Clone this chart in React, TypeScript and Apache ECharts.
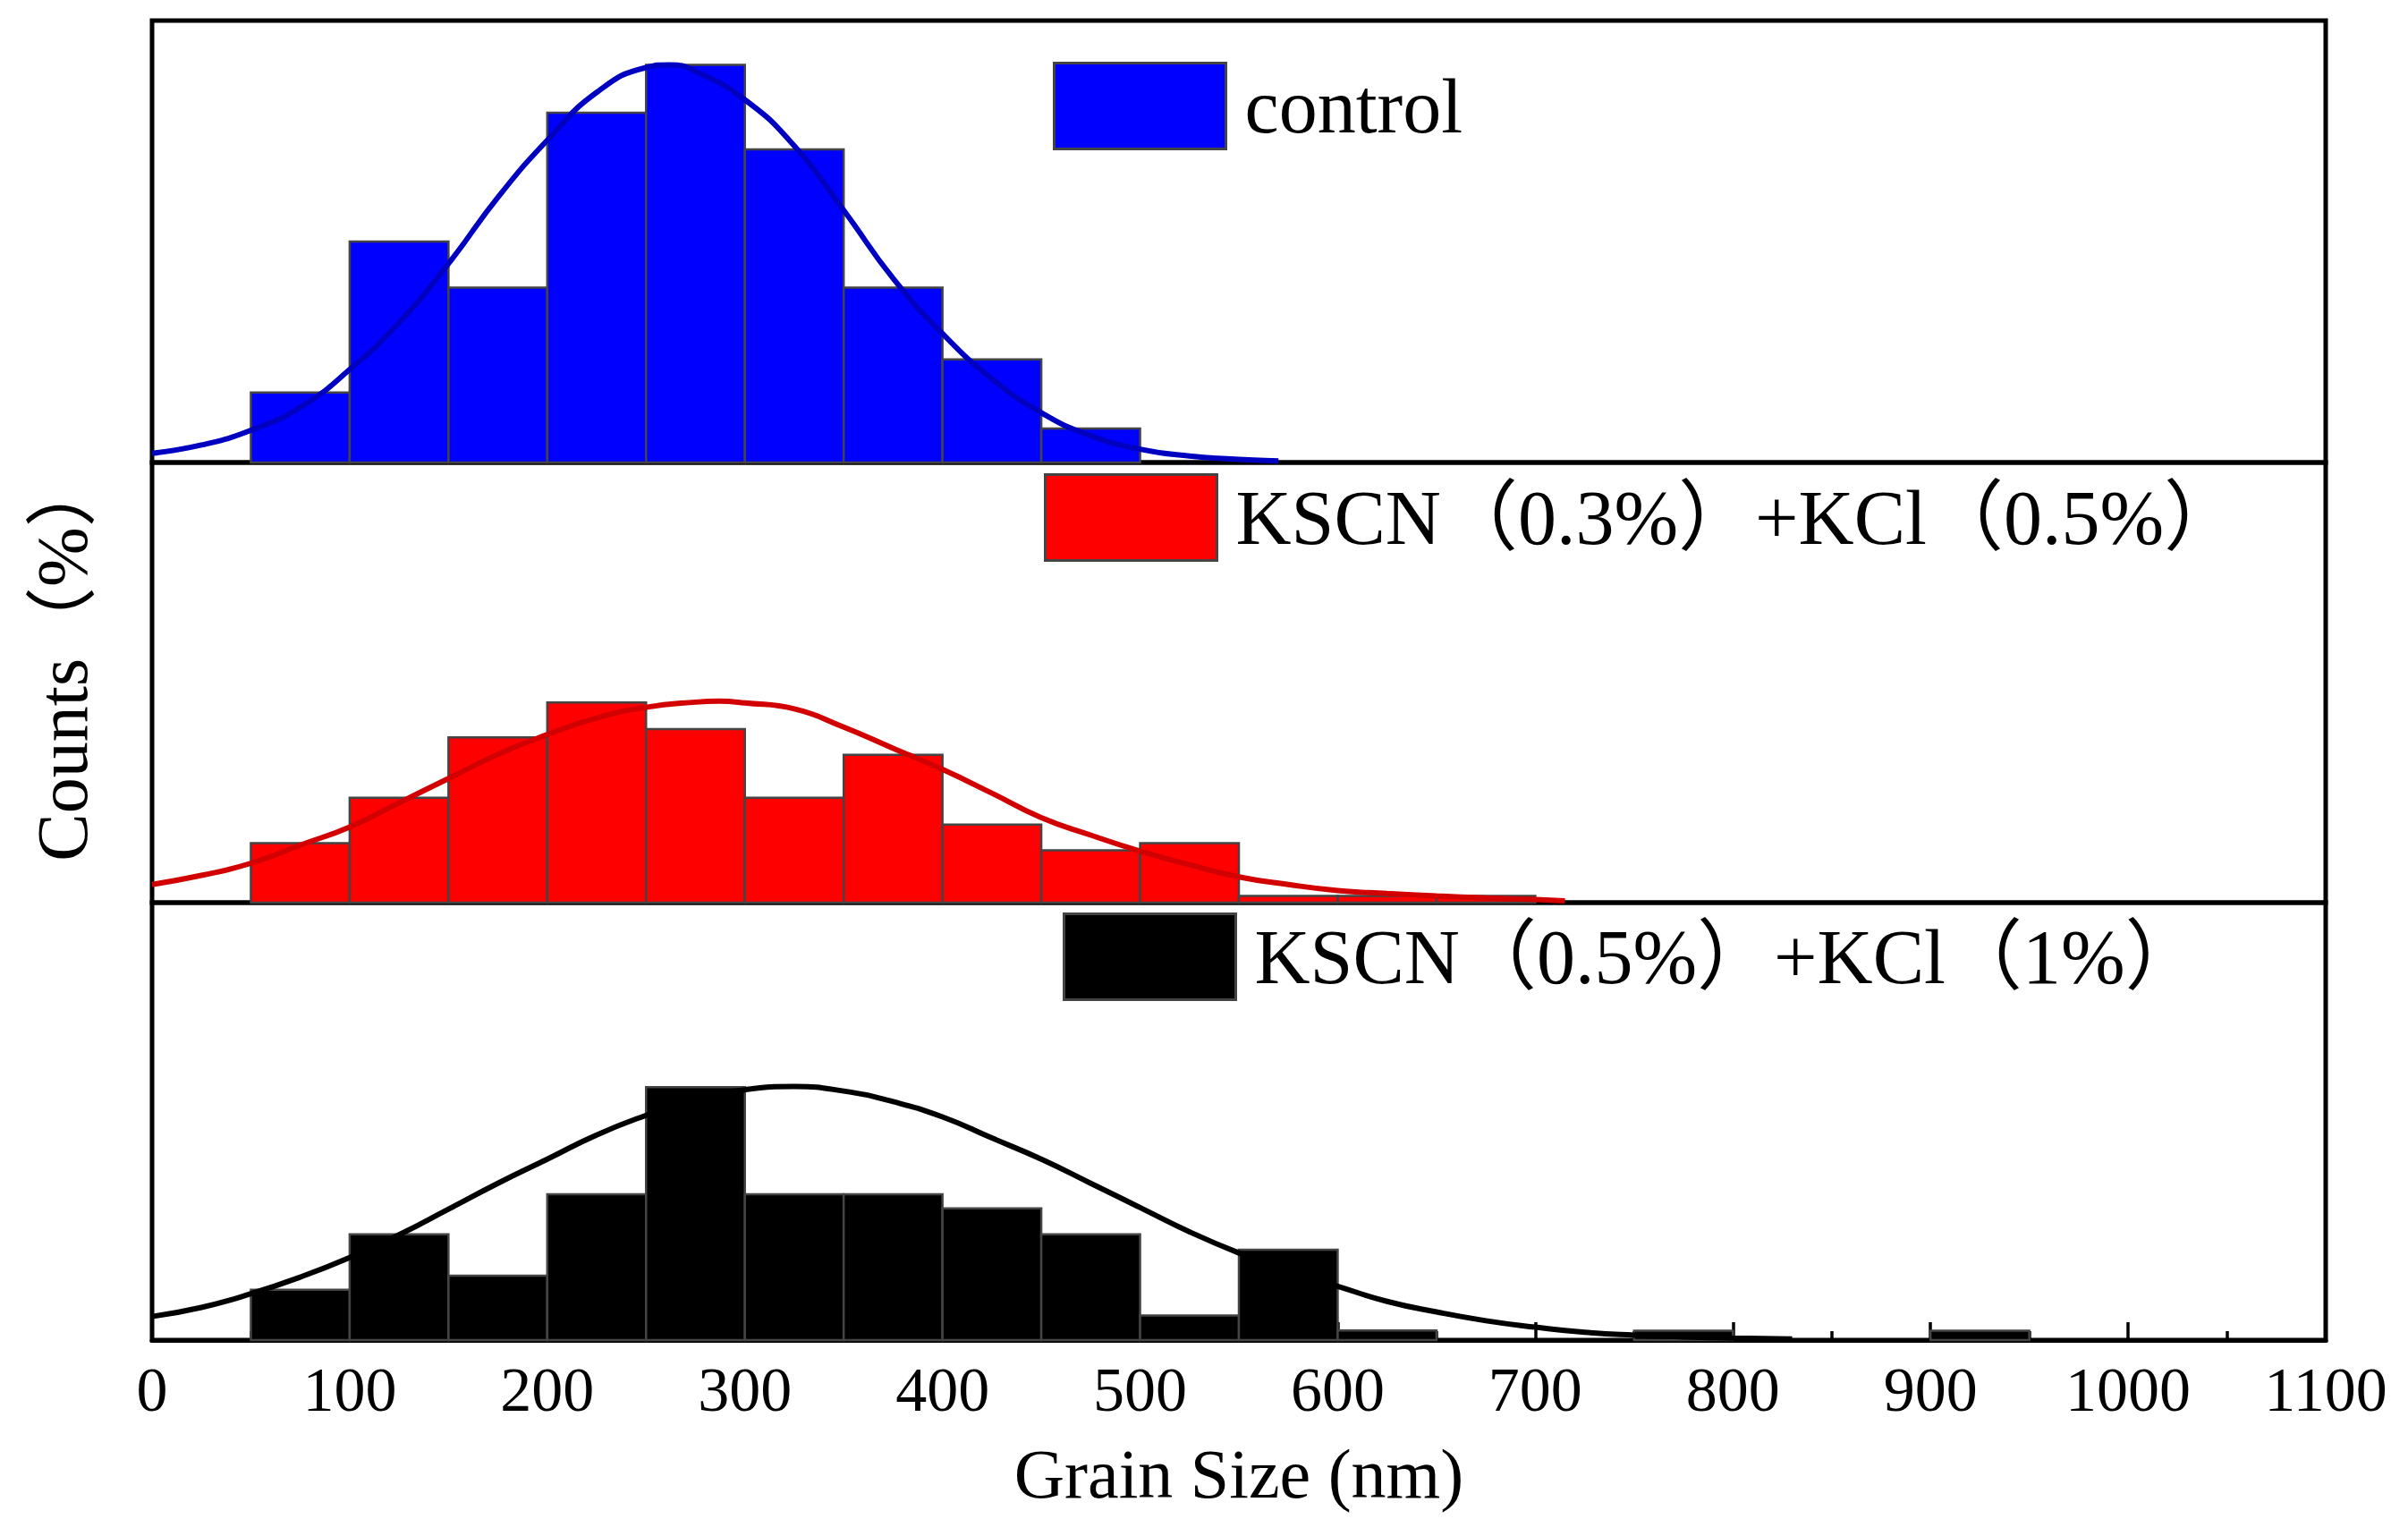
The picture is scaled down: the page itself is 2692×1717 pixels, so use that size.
import React, { useEffect, useRef } from 'react';
import * as echarts from 'echarts';

// x axis
const X_MIN = 0;
const X_MAX = 1100;
const X_STEP = 100;
const BIN_WIDTH = 50;

// series names
const NAMES = ['control', 'KSCN（0.3%）+KCl（0.5%）', 'KSCN（0.5%）+KCl（1%）'];
const Y_TITLE = 'Counts（%）';
const X_TITLE = 'Grain Size (nm)';

// histogram bins (left edge, nm) and counts (%)
const controlBins = [50, 100, 150, 200, 250, 300, 350, 400, 450];
const controlCounts = [3.8, 12.0, 9.5, 19.0, 21.6, 17.0, 9.5, 5.6, 1.85];

const lowBins = [50, 100, 150, 200, 250, 300, 350, 400, 450, 500, 550, 600, 650];
const lowCounts = [5.1, 9.0, 14.2, 17.2, 14.9, 9.0, 12.7, 6.7, 4.5, 5.1, 0.58, 0.58, 0.58];

const highBins = [50, 100, 150, 200, 250, 300, 350, 400, 450, 500, 550, 600, 750, 900];
const highCounts = [3.9, 8.2, 5.0, 11.3, 19.6, 11.3, 11.3, 10.2, 8.2, 1.9, 7.0, 0.75, 0.73, 0.73];

// fitted curves
const controlFitX = [0, 25, 50, 75, 100, 125, 150, 175, 200, 225, 250, 262, 275, 300, 325, 350, 375, 400, 425, 450, 475, 500, 525, 550, 570];
const controlFitY = [0.5, 0.95, 1.75, 3.0, 5.05, 7.6, 10.8, 14.4, 17.5, 20.1, 21.45, 21.6, 21.25, 19.7, 17.2, 13.7, 10.0, 7.0, 4.55, 2.7, 1.45, 0.72, 0.35, 0.17, 0.08];

const lowFitX = [0, 25, 50, 75, 100, 125, 150, 175, 200, 225, 250, 275, 287, 300, 325, 350, 375, 400, 425, 450, 475, 500, 525, 550, 575, 600, 625, 650, 675, 700, 715];
const lowFitY = [1.56, 2.34, 3.38, 4.94, 6.5, 8.58, 10.66, 12.74, 14.43, 15.86, 16.78, 17.22, 17.3, 17.15, 16.64, 15.08, 13.26, 11.44, 9.4, 7.3, 5.8, 4.42, 3.25, 2.21, 1.56, 1.04, 0.78, 0.57, 0.4, 0.26, 0.15];

const highFitX = [0, 25, 50, 75, 100, 125, 150, 175, 200, 225, 250, 275, 300, 325, 350, 375, 400, 425, 450, 475, 500, 525, 550, 575, 600, 625, 650, 675, 700, 725, 750, 775, 800, 830];
const highFitY = [1.83, 2.53, 3.59, 4.88, 6.4, 8.16, 10.15, 12.15, 14.02, 15.9, 17.42, 18.71, 19.4, 19.65, 19.3, 18.48, 17.3, 15.66, 14.02, 12.15, 10.27, 8.39, 6.75, 5.35, 4.17, 3.0, 2.18, 1.5, 1.0, 0.6, 0.38, 0.25, 0.15, 0.08];

const Y_MAX = [24, 37.8, 33.9];

const FONT = '"Liberation Serif", "Times New Roman", "Noto Sans CJK SC", serif';

const panels = [
  { bins: controlBins, counts: controlCounts, fitX: controlFitX, fitY: controlFitY, fill: '#0000ff', line: '#0000c0' },
  { bins: lowBins, counts: lowCounts, fitX: lowFitX, fitY: lowFitY, fill: '#ff0000', line: '#d20000' },
  { bins: highBins, counts: highCounts, fitX: highFitX, fitY: highFitY, fill: '#000000', line: '#000000' },
];

const GRIDS = [
  { top: 23, height: 494 },
  { top: 517, height: 492 },
  { top: 1009, height: 489 },
];

const LEGEND_POS = [
  { left: 1177, top: 69 },
  { left: 1167, top: 529 },
  { left: 1188, top: 1020 },
];

const App: React.FC = () => {
  const chartRef = useRef<HTMLDivElement | null>(null);

  useEffect(() => {
    if (!chartRef.current) return;
    const chart = echarts.init(chartRef.current, undefined, { renderer: 'svg' });

    const series: any[] = [];
    panels.forEach((p, i) => {
      series.push({
        name: NAMES[i],
        type: 'custom',
        xAxisIndex: i,
        yAxisIndex: i,
        itemStyle: { color: p.fill },
        encode: { x: [0, 1], y: 2 },
        data: p.bins.map((b, k) => [b, b + BIN_WIDTH, p.counts[k]]),
        renderItem: (params: any, api: any) => {
          const topLeft = api.coord([api.value(0), api.value(2)]);
          const bottomRight = api.coord([api.value(1), 0]);
          return {
            type: 'rect',
            shape: {
              x: topLeft[0],
              y: topLeft[1],
              width: bottomRight[0] - topLeft[0],
              height: bottomRight[1] - topLeft[1],
            },
            style: { fill: p.fill, stroke: '#444', lineWidth: 2.5 },
          };
        },
        z: 2,
      });
      series.push({
        name: NAMES[i] + ' fit',
        type: 'line',
        xAxisIndex: i,
        yAxisIndex: i,
        smooth: 0.5,
        showSymbol: false,
        data: p.fitX.map((x, k) => [x, p.fitY[k]]),
        lineStyle: { color: p.line, width: 6 },
        itemStyle: { color: p.line },
        z: 3,
      });
    });

    const option: echarts.EChartsOption = {
      animation: false,
      backgroundColor: '#ffffff',
      grid: GRIDS.map((g) => ({
        left: 170,
        right: 92,
        top: g.top,
        height: g.height,
        show: true,
        borderColor: '#000',
        borderWidth: 5,
      })),
      xAxis: GRIDS.map((_, i) => {
        const bottom = i === GRIDS.length - 1;
        return {
          type: 'value',
          gridIndex: i,
          min: X_MIN,
          max: X_MAX,
          interval: X_STEP,
          splitLine: { show: false },
          axisLine: { show: bottom, lineStyle: { color: '#000', width: 5 } },
          axisTick: { show: bottom, inside: true, length: 20, lineStyle: { color: '#000', width: 3.5 } },
          minorTick: { show: bottom, splitNumber: 2, length: 10, lineStyle: { color: '#000', width: 3.5 } },
          axisLabel: {
            show: bottom,
            margin: 20,
            fontSize: 70,
            fontFamily: FONT,
            color: '#000',
            formatter: (v: number) => String(v),
          },
          name: bottom ? X_TITLE : '',
          nameLocation: 'middle',
          nameGap: 110,
          nameTextStyle: { fontSize: 78, fontFamily: FONT, color: '#000' },
        };
      }),
      yAxis: GRIDS.map((_, i) => ({
        type: 'value',
        gridIndex: i,
        min: 0,
        max: Y_MAX[i],
        show: false,
      })),
      legend: NAMES.map((n, i) => ({
        data: [n],
        left: LEGEND_POS[i].left,
        top: LEGEND_POS[i].top,
        padding: 0,
        icon: 'rect',
        itemWidth: 192,
        itemHeight: 96,
        selectedMode: false,
        itemStyle: { borderColor: '#444', borderWidth: 3 },
        textStyle: { fontSize: 86, fontFamily: FONT, color: '#000', padding: [0, 0, 0, 16] },
      })),
      graphic: [
        {
          type: 'text',
          x: 70,
          y: 736,
          rotation: Math.PI / 2,
          style: {
            text: Y_TITLE,
            fontSize: 80,
            fontFamily: FONT,
            fill: '#000',
            align: 'center',
            verticalAlign: 'middle',
          },
        },
      ],
      series,
    };

    chart.setOption(option);

    return () => {
      chart.dispose();
    };
  }, []);

  return (
    <div
      ref={chartRef}
      style={{ position: 'fixed', left: 0, top: 0, width: '2692px', height: '1717px', background: '#fff' }}
    />
  );
};

export default App;
